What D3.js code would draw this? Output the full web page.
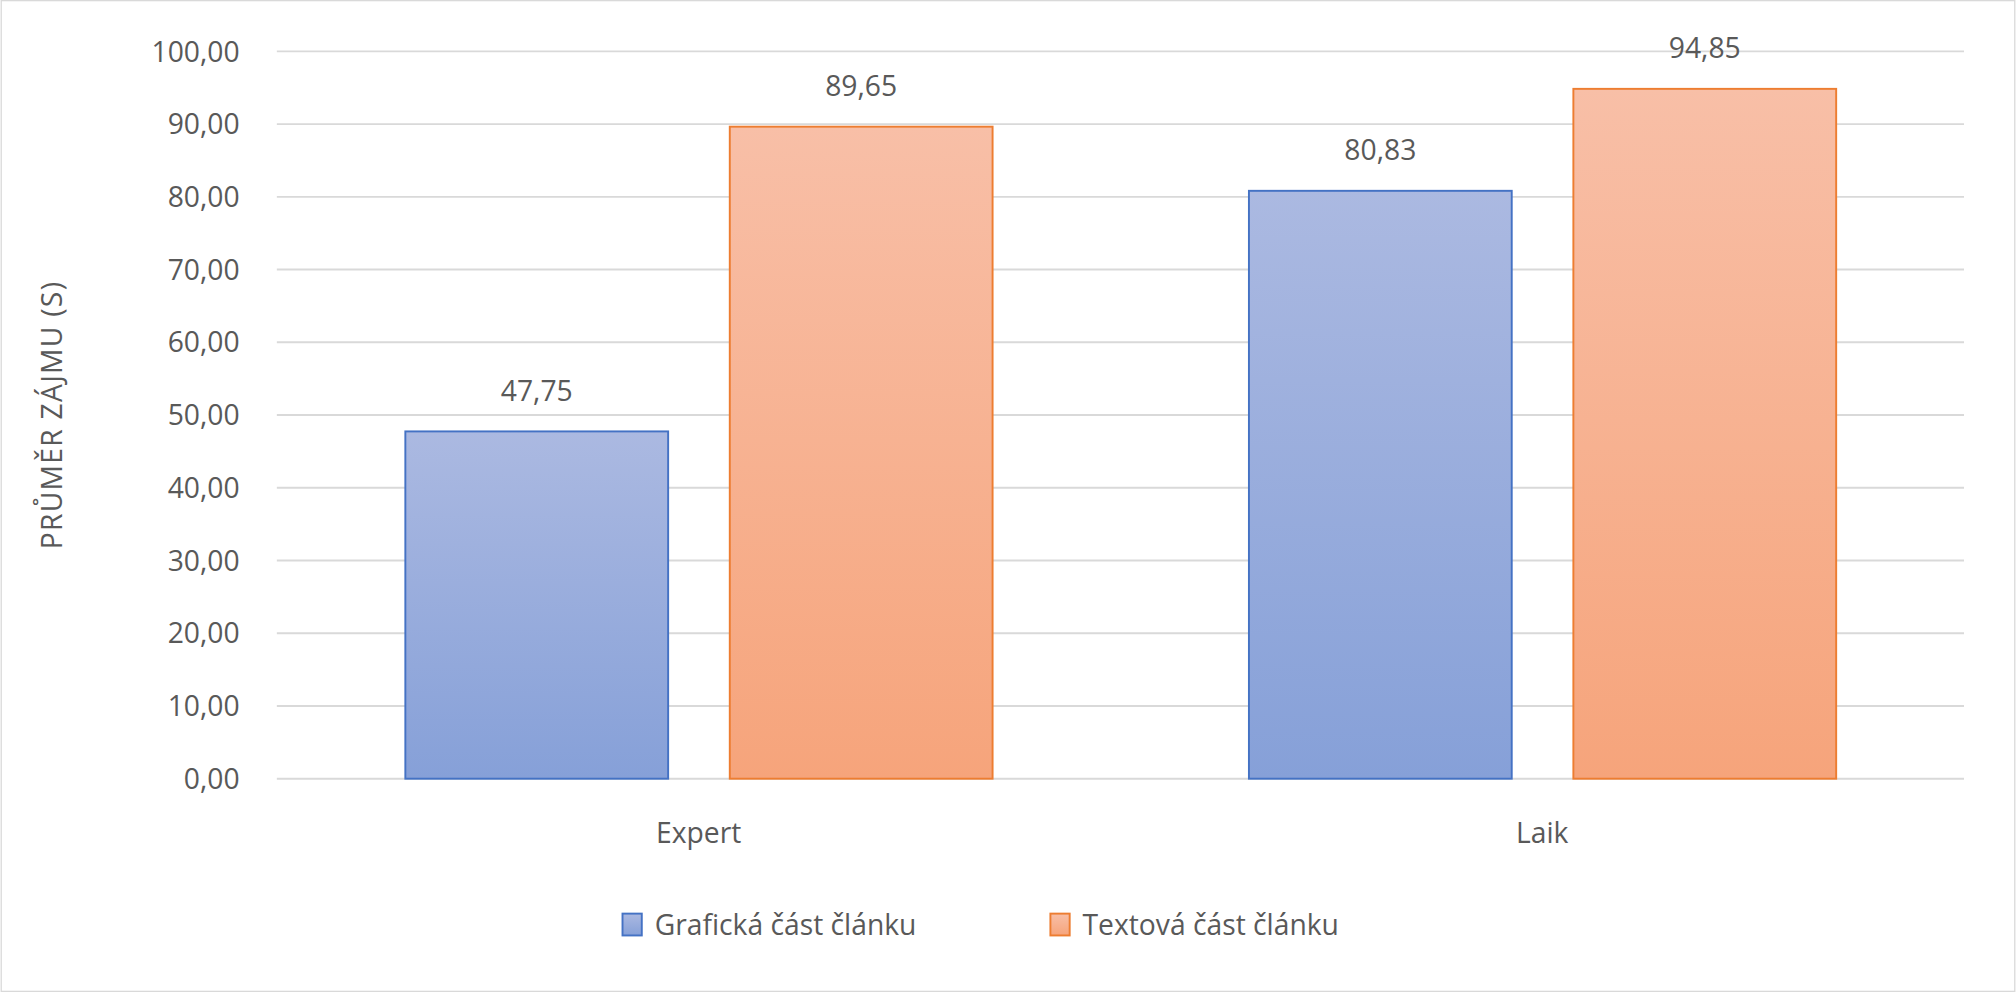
<!DOCTYPE html>
<html><head><meta charset="utf-8">
<script src="https://cdn.jsdelivr.net/npm/d3@7"></script>
<style>body{margin:0;background:#fff}text{font-family:"Open Sans",sans-serif;fill:#595959}</style>
</head><body>
<script>
var categories = ['Expert', 'Laik'];
var seriesNames = ['Grafická část článku', 'Textová část článku'];
var grafickaValues = [47.75, 80.83];
var textovaValues = [89.65, 94.85];
var yTicks = [0, 10, 20, 30, 40, 50, 60, 70, 80, 90, 100];

var W = 1568, H = 772;
var svg = d3.select('body').append('svg')
    .attr('width', 2016).attr('height', 992)
    .attr('viewBox', '0 0 ' + W + ' ' + H);

svg.append('rect').attr('x', 0.5).attr('y', 0.5).attr('width', W - 1).attr('height', H - 1)
    .attr('fill', '#fff').attr('stroke', '#d9d9d9');

var defs = svg.append('defs');
var colors = [
    {stroke: '#4472c4', top: '#abb9e1', bottom: '#86a0d8'},
    {stroke: '#ed7d31', top: '#f8bfa7', bottom: '#f6a47b'}
];
colors.forEach(function(c, i){
    var g = defs.append('linearGradient').attr('id', 'g' + i)
        .attr('x1', 0).attr('y1', 0).attr('x2', 0).attr('y2', 1);
    g.append('stop').attr('offset', 0).attr('stop-color', c.top);
    g.append('stop').attr('offset', 1).attr('stop-color', c.bottom);
});

var x0 = d3.scaleBand().domain(categories).range([215, 1528]);
var x1 = d3.scaleBand().domain([0, 1]).range([100, 557]).paddingInner(0.19);
var y = d3.scaleLinear().domain([0, 100]).range([606, 40]);

svg.selectAll('.grid').data(yTicks).enter().append('line')
    .attr('x1', 215).attr('x2', 1528)
    .attr('y1', function(d){ return y(d); }).attr('y2', function(d){ return y(d); })
    .attr('stroke', '#d9d9d9').attr('stroke-width', 1.5);

svg.selectAll('.ytick').data(yTicks).enter().append('text')
    .attr('x', 186).attr('y', function(d){ return y(d); }).attr('dy', '0.36em')
    .attr('text-anchor', 'end').attr('font-size', 22)
    .text(function(d){ return d.toFixed(2).replace('.', ','); });

svg.append('text').attr('transform', 'translate(48,' + 323 + ') rotate(-90)')
    .attr('text-anchor', 'middle').attr('font-size', 22).attr('letter-spacing', 1)
    .text('PRŮMĚR ZÁJMU (S)');

var series = [grafickaValues, textovaValues];
series.forEach(function(vals, si){
    var g = svg.append('g');
    g.selectAll('rect').data(categories).enter().append('rect')
        .attr('x', function(d){ return x0(d) + x1(si); })
        .attr('y', function(d, i){ return y(vals[i]); })
        .attr('width', x1.bandwidth())
        .attr('height', function(d, i){ return y(0) - y(vals[i]); })
        .attr('fill', 'url(#g' + si + ')').attr('stroke', colors[si].stroke).attr('stroke-width', 1.5);
    g.selectAll('text').data(categories).enter().append('text')
        .attr('x', function(d){ return x0(d) + x1(si) + x1.bandwidth() / 2; })
        .attr('y', function(d, i){ return y(vals[i]) - 24; })
        .attr('text-anchor', 'middle').attr('font-size', 22)
        .text(function(d, i){ return vals[i].toFixed(2).replace('.', ','); });
});

svg.selectAll('.xlab').data(categories).enter().append('text')
    .attr('x', function(d){ return x0(d) + x0.bandwidth() / 2; }).attr('y', 656)
    .attr('text-anchor', 'middle').attr('font-size', 22).text(function(d){ return d; });

var legX = [484, 817];
seriesNames.forEach(function(n, i){
    svg.append('rect').attr('x', legX[i]).attr('y', 711).attr('width', 15).attr('height', 17)
        .attr('fill', 'url(#g' + i + ')').attr('stroke', colors[i].stroke).attr('stroke-width', 1.5);
    svg.append('text').attr('x', legX[i] + 25).attr('y', 720).attr('dy', '0.36em')
        .attr('font-size', 22).text(n);
});
</script>
</body></html>
